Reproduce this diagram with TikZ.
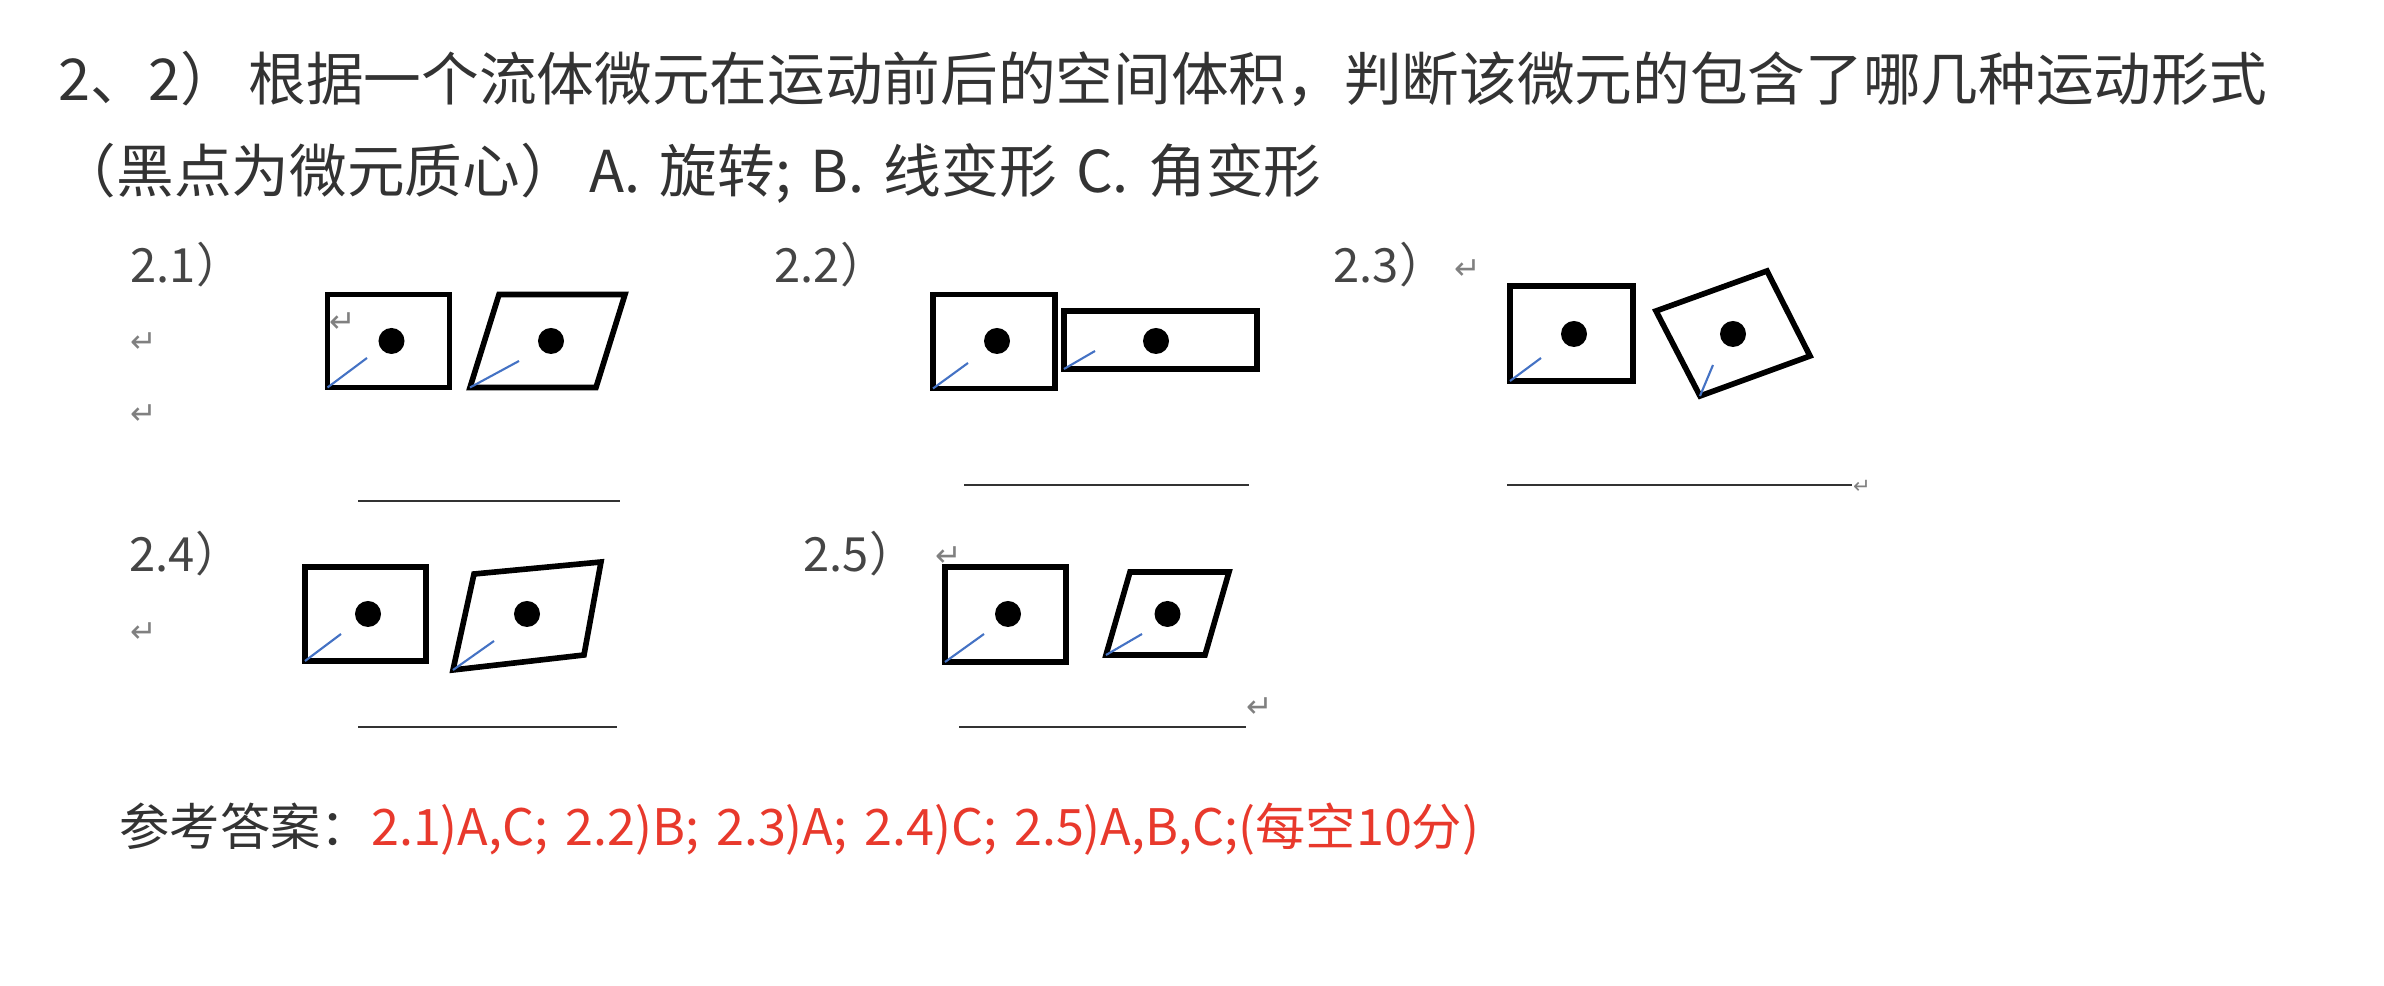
\documentclass[tikz,border=0pt]{standalone}
\usepackage{fontspec}
\setmainfont{Noto Sans CJK SC}[WordSpace=1.5]
\newfontfamily\markfont{DejaVu Sans}
\usetikzlibrary{positioning}
\definecolor{txtgray}{HTML}{333333}
\definecolor{taggray}{HTML}{454545}
\definecolor{markgray}{HTML}{808080}
\definecolor{ansred}{HTML}{E8392C}
\definecolor{diagblue}{HTML}{4472C4}
\begin{document}
\begin{tikzpicture}[x=0.01cm,y=-0.01cm,
  elem/.style={draw=black,line width=1.6pt,line join=miter},
  diag/.style={draw=diagblue,line width=0.6pt},
  cdot/.style={circle,fill=black,minimum size=0.26cm},
  blank/.style={draw=txtgray,line width=0.7pt},
  head/.style={anchor=base west,text=txtgray,font=\fontsize{16.4pt}{18pt}\selectfont},
  akey/.style={anchor=base west,text=txtgray,font=\fontsize{14.3pt}{16pt}\selectfont},
  tag/.style={anchor=base west,text=taggray,font=\fontsize{13.4pt}{15pt}\selectfont},
  pmark/.style={text=markgray,font=\markfont\fontsize{9pt}{9pt}\selectfont}]
\tikzstyle{every node}+=[inner sep=0pt]
\useasboundingbox (0,0) rectangle (2384,986);
\node [head] (qline) at (58,101) {2、2）\hspace{0.18em}根据一个流体微元在运动前后的空间体积，判断该微元的包含了哪几种运动形式};
\node [head] (qhint) at (58,193) {（黑点为微元质心）\hspace{0.2em}A. 旋转; B. 线变形 C. 角变形};
\node [tag] (tag21) at (130,283) {2.1）};
\node [tag] (tag22) at (774,283) {2.2）};
\node [tag] (tag23) at (1333,283) {2.3）};
\node [tag] (tag24) at (129,572) {2.4）};
\node [tag] (tag25) at (803,572) {2.5）};
\node [pmark] (pm1) at (144,343) {↵};
\node [pmark] (pm2) at (144,415) {↵};
\node [pmark] (pm3) at (343,323) {↵};
\node [pmark] (pm4) at (1468,270) {↵};
\node [pmark] (pm5) at (144,633) {↵};
\node [pmark] (pm6) at (949,557) {↵};
\node [pmark] (pm7) at (1260,708) {↵};
\node [pmark,font=\markfont\fontsize{6pt}{6pt}\selectfont] (pm8) at (1862,487) {↵};
\draw [elem] (327.5,294.5) rectangle (449.5,387.5);
\node [cdot] (d21a) at (391.5,341) {};
\draw [diag] (327.5,387.5) -- (367,358);
\draw [elem] (470,387.5) -- (596,387.5) -- (625,294.5) -- (499,294.5) -- cycle;
\node [cdot] (d21b) at (551,341) {};
\draw [diag] (470,387.5) -- (519,361);
\draw [blank] (358,501) -- (620,501);
\draw [elem] (933,294.5) rectangle (1055,388.5);
\node [cdot] (d22a) at (997,341) {};
\draw [diag] (933,388.5) -- (968,363);
\draw [elem] (1064,311) rectangle (1257,369);
\node [cdot] (d22b) at (1156,341) {};
\draw [diag] (1064,369) -- (1095,351);
\draw [blank] (964,485) -- (1249,485);
\draw [elem] (1510,286) rectangle (1633,381);
\node [cdot] (d23a) at (1574,334) {};
\draw [diag] (1510,381) -- (1541,358);
\draw [elem] (1656,311) -- (1767,271) -- (1810,356) -- (1700,396) -- cycle;
\node [cdot] (d23b) at (1733,334) {};
\draw [diag] (1700,396) -- (1713,365);
\draw [blank] (1507,485) -- (1852,485);
\draw [elem] (305,567) rectangle (426,661);
\node [cdot] (d24a) at (368,614) {};
\draw [diag] (305,661) -- (341,634);
\draw [elem] (453,670) -- (584,655) -- (601,562) -- (474,574) -- cycle;
\node [cdot] (d24b) at (527,614) {};
\draw [diag] (453,670) -- (494,641);
\draw [blank] (358,727) -- (617,727);
\draw [elem] (945,567) rectangle (1066,662);
\node [cdot] (d25a) at (1008,614) {};
\draw [diag] (945,662) -- (984,634);
\draw [elem] (1106,655) -- (1205,655) -- (1229,572) -- (1130,572) -- cycle;
\node [cdot] (d25b) at (1167.5,614) {};
\draw [diag] (1106,655) -- (1142,634);
\draw [blank] (959,727) -- (1246,727);
\node [akey] (ans) at (119,846) {参考答案：\textcolor{ansred}{2.1)A,C; 2.2)B; 2.3)A; 2.4)C; 2.5)A,B,C;(每空10分)}};
\end{tikzpicture}
\end{document}
